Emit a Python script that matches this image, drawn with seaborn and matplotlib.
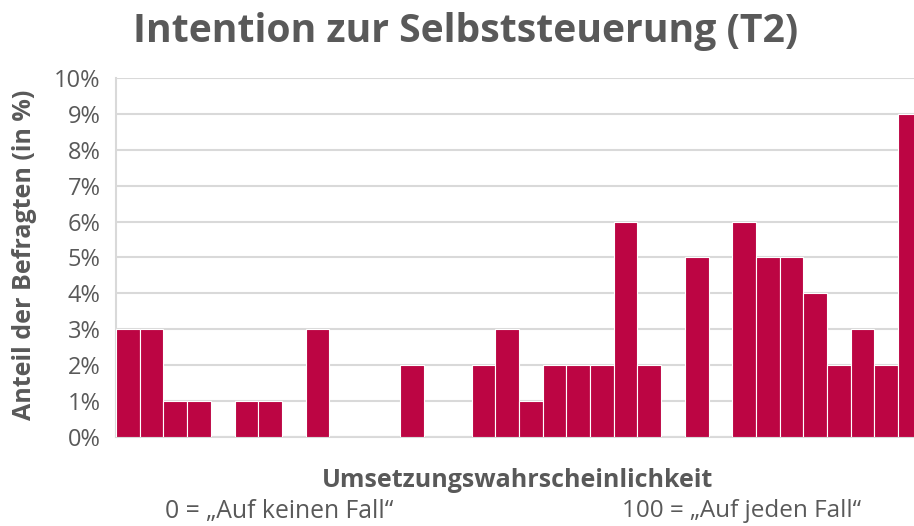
import matplotlib
matplotlib.use("Agg")
import matplotlib.pyplot as plt
from matplotlib.ticker import FuncFormatter, MultipleLocator
import seaborn as sns
import pandas as pd

# Anteil der Befragten je Kategorie (in %), von links nach rechts
categories = list(range(34))
shares = [3, 3, 1, 1, 0, 1, 1, 0, 3, 0, 0, 0, 2, 0, 0, 2, 3, 1, 2, 2,
          2, 6, 2, 0, 5, 0, 6, 5, 5, 4, 2, 3, 2, 9]
yticks = list(range(0, 11))

title = "Intention zur Selbststeuerung (T2)"
ylabel = "Anteil der Befragten (in %)"
xlabel = "Umsetzungswahrscheinlichkeit"
left_note = "0 = \u201eAuf keinen Fall\u201c"
right_note = "100 = \u201eAuf jeden Fall\u201c"

bar_color = "#BC0543"
text_color = "#595959"
grid_color = "#D9D9D9"

sns.set_style("white")
plt.rcParams["font.family"] = ["Open Sans", "DejaVu Sans"]

df = pd.DataFrame({"cat": categories, "share": shares})

fig = plt.figure(figsize=(9.14, 5.26), dpi=100)
ax = fig.add_axes([0.127, 0.169, 0.873, 0.683])

sns.barplot(data=df, x="cat", y="share", color=bar_color, width=1.0,
            edgecolor="white", linewidth=0.8, saturation=1, ax=ax, zorder=3)

ax.set_xlim(-0.5, 33.17)
ax.set_ylim(0, 10)
ax.set_yticks(yticks)
ax.yaxis.set_major_formatter(FuncFormatter(lambda v, p: f"{int(v)}%"))
ax.set_xticks([])
ax.set_xlabel("")
ax.set_ylabel("")
ax.grid(axis="y", color=grid_color, linewidth=1.5, zorder=0)
ax.tick_params(axis="y", labelsize=17, labelcolor=text_color, length=0, pad=11)

for s in ["top", "right"]:
    ax.spines[s].set_visible(False)
for s in ["left", "bottom"]:
    ax.spines[s].set_color(grid_color)
    ax.spines[s].set_linewidth(1.5)

fig.text(0.509, 0.94, title, ha="center", va="center", fontsize=28.2,
         fontweight="bold", color=text_color)
fig.text(0.027, 0.515, ylabel, ha="center", va="center", rotation=90,
         fontsize=18, fontweight="bold", color=text_color)
fig.text(0.566, 0.086, xlabel, ha="center", va="center", fontsize=18,
         fontweight="bold", color=text_color)
fig.text(0.306, 0.028, left_note, ha="center", va="center", fontsize=17.8,
         color=text_color)
fig.text(0.811, 0.028, right_note, ha="center", va="center", fontsize=17.5,
         color=text_color)

fig.savefig("out.png", dpi=100)
